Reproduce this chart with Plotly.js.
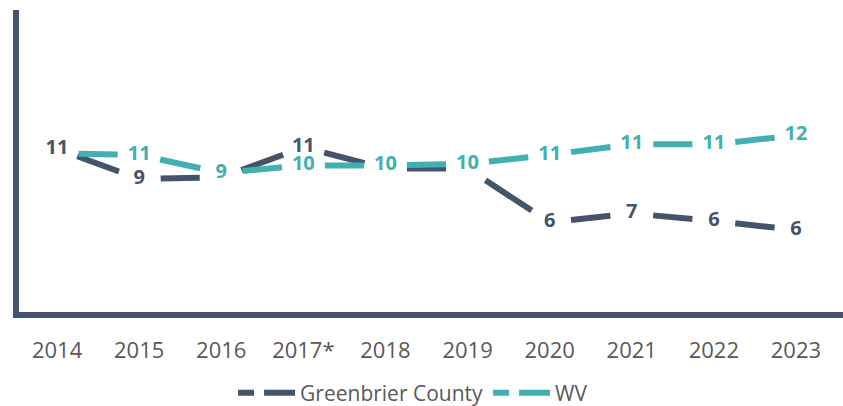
<!DOCTYPE html>
<html>
<head>
<meta charset="utf-8">
<script src="https://cdn.plot.ly/plotly-3.0.1.min.js"></script>
<style>
  html, body { margin: 0; padding: 0; background: #ffffff; }
  #chart { width: 843px; height: 406px; }
</style>
</head>
<body>
<div id="chart"></div>
<script>
// ---- data ----
const years = ['2014', '2015', '2016', '2017*', '2018', '2019', '2020', '2021', '2022', '2023'];
const countyName = 'Greenbrier County';
const wvName = 'WV';
const countyValues = [11.0, 9.0, 9.1, 11.1, 9.7, 9.7, 6.1, 6.7, 6.2, 5.6];
const wvValues = [10.7, 10.6, 9.4, 9.9, 9.9, 10.0, 10.6, 11.3, 11.3, 11.9];
// which data labels are visible (others are hidden beneath the other series)
const countyLabelShown = [true, true, false, true, false, false, true, true, true, true];
const wvLabelShown = [false, true, true, true, true, true, true, true, true, true];

// ---- styles ----
const countyColor = '#44546a';
const wvColor = '#41b0b2';
const textGray = '#595959';
const lineWidth = 6;
const endGap = 21.5; // px of empty space at each end of a segment

const traces = [];
const segments = [];

function addSeries(vals, color) {
  for (let i = 0; i < vals.length - 1; i++) {
    segments.push({ idx: traces.length, i: i, vals: vals });
    traces.push({
      type: 'scatter', mode: 'lines',
      x: [years[i], years[i + 1]], y: [vals[i], vals[i + 1]],
      line: { color: color, width: lineWidth, dash: 'solid' },
      showlegend: false, hoverinfo: 'skip', cliponaxis: false
    });
  }
}
addSeries(countyValues, countyColor);
addSeries(wvValues, wvColor);

function labelTrace(vals, shown, color) {
  return {
    type: 'scatter', mode: 'text',
    x: years, y: vals,
    text: vals.map((v, k) => shown[k] ? String(Math.round(v)) : ''),
    textposition: 'middle center',
    textfont: { family: 'Open Sans', size: 20, color: color, weight: 'bold' },
    showlegend: false, hoverinfo: 'skip', cliponaxis: false
  };
}
traces.push(labelTrace(countyValues, countyLabelShown, countyColor));
traces.push(labelTrace(wvValues, wvLabelShown, wvColor));

// legend-only entries
traces.push({ type: 'scatter', mode: 'lines', name: countyName, x: [null], y: [null],
  line: { color: countyColor, width: lineWidth, dash: '16px,10px,40px' }, showlegend: true });
traces.push({ type: 'scatter', mode: 'lines', name: wvName, x: [null], y: [null],
  line: { color: wvColor, width: lineWidth, dash: '16px,10px,40px' }, showlegend: true });

const layout = {
  width: 843, height: 406,
  margin: { l: 16, r: 6, t: 10, b: 92 },
  paper_bgcolor: '#ffffff', plot_bgcolor: '#ffffff',
  showlegend: true,
  xaxis: {
    type: 'category', categoryorder: 'array', categoryarray: years,
    range: [-0.5, 9.5], showgrid: false, zeroline: false, showline: false,
    ticks: '', ticklabelstandoff: 21,
    tickfont: { family: 'Open Sans', size: 22, color: textGray }
  },
  yaxis: {
    range: [0, 20.25], showgrid: false, zeroline: false, showline: false,
    showticklabels: false, ticks: ''
  },
  legend: {
    orientation: 'h', xref: 'container', yref: 'container',
    x: 0.49, xanchor: 'center', y: 0.032, yanchor: 'middle',
    font: { family: 'Open Sans', size: 21, color: textGray },
    bgcolor: 'rgba(0,0,0,0)', itemwidth: 57, tracegroupgap: 0
  },
  shapes: [
    { type: 'line', xref: 'paper', yref: 'paper', x0: 0, x1: 0, y0: -0.0105, y1: 1,
      line: { color: countyColor, width: 6 } },
    { type: 'line', xref: 'paper', yref: 'paper', x0: -0.0035, x1: 1.0075, y0: -0.003, y1: -0.003,
      line: { color: countyColor, width: 6 } }
  ]
};

const gd = document.getElementById('chart');
Plotly.newPlot(gd, traces, layout, { displayModeBar: false, staticPlot: true }).then(function () {
  const xa = gd._fullLayout.xaxis, ya = gd._fullLayout.yaxis;
  const dashes = [], idxs = [];
  segments.forEach(function (s) {
    const dx = xa.c2p(s.i + 1) - xa.c2p(s.i);
    const dy = ya.c2p(s.vals[s.i + 1]) - ya.c2p(s.vals[s.i]);
    const L = Math.sqrt(dx * dx + dy * dy);
    const d = Math.max(L - 2 * endGap, 1);
    dashes.push('0px,' + endGap.toFixed(1) + 'px,' + d.toFixed(1) + 'px,' + (L + 50).toFixed(1) + 'px');
    idxs.push(s.idx);
  });
  return Plotly.restyle(gd, { 'line.dash': dashes }, idxs);
});
</script>
</body>
</html>
